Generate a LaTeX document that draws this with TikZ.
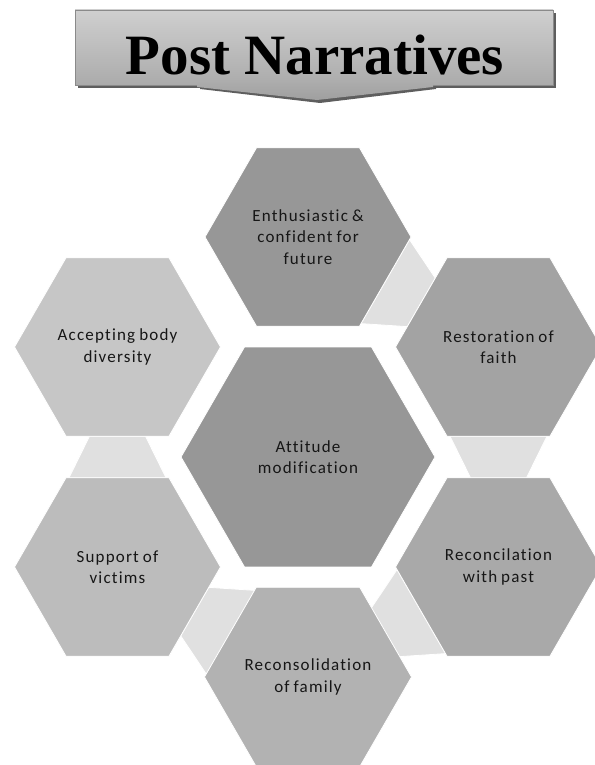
\documentclass[tikz,border=0pt]{standalone}
\usepackage{fontspec}
\setmainfont{Carlito}
\newfontfamily\hexfont{Carlito}[LetterSpace=7.0, Ligatures=NoCommon, WordSpace=0.8]
\newfontfamily\titlefont{Liberation Serif}
\usetikzlibrary{shapes.geometric,calc}

\definecolor{txt}{HTML}{161616}
\definecolor{linkgray}{HTML}{E0E0E0}
\definecolor{hexA}{HTML}{979797}
\definecolor{hexB}{HTML}{A3A3A3}
\definecolor{hexC}{HTML}{A9A9A9}
\definecolor{hexD}{HTML}{B2B2B2}
\definecolor{hexE}{HTML}{BCBCBC}
\definecolor{hexF}{HTML}{C6C6C6}
\definecolor{boxtop}{HTML}{CFCFCF}
\definecolor{boxbot}{HTML}{ABABAB}
\definecolor{boxedge}{HTML}{8A8A8A}
\definecolor{shadowgray}{HTML}{5E5E5E}

% trapezoid band between two neighbouring cells: #1 = first cell centre, #2 = direction
\newcommand\hexlink[2]{%
  \begin{scope}[shift={(#1)}, rotate=#2]
    \path[linkband] (89.2,-48.5) -- (130.8,-28) -- (130.8,28) -- (89.2,48.5) -- cycle;
  \end{scope}}

\begin{document}
\begin{tikzpicture}[x=1pt,y=1pt,
  hexcell/.style={regular polygon, regular polygon sides=6, draw=white,
    line width=0.8pt, inner sep=0pt, outer sep=0pt, text=txt, align=center,
    font=\hexfont\fontsize{17}{21.5}\selectfont},
  smallhex/.style={hexcell, minimum size=206pt},
  bighex/.style={hexcell, minimum size=254pt},
  linkband/.style={fill=linkgray, draw=white, line width=0.8pt},
  titlebox/.style={rectangle, minimum width=478pt, minimum height=75pt,
    inner sep=0pt, outer sep=0pt, top color=boxtop, bottom color=boxbot,
    draw=boxedge, line width=0.6pt}]

\fill[white] (0,0) rectangle (594,765);
\useasboundingbox (0,0) rectangle (594,765);

% cell centres
\coordinate (cMid) at (308,308);
\coordinate (cTop) at (308,528);
\coordinate (cUR)  at (498.5,418);
\coordinate (cLR)  at (498.5,198);
\coordinate (cBot) at (308,88);
\coordinate (cLL)  at (117.5,198);
\coordinate (cUL)  at (117.5,418);

% bands joining the outer ring
\hexlink{cTop}{-30}
\hexlink{cUR}{-90}
\hexlink{cLR}{-150}
\hexlink{cBot}{150}
\hexlink{cLL}{90}

% cells
\node[bighex, fill=hexA] (mid) at (cMid) {Attitude\\modification};
\node[smallhex, fill=hexA] (top) at (cTop) {Enthusiastic \&\\confident for\\future};
\node[smallhex, fill=hexB] (ur) at (cUR) {Restoration of\\faith};
\node[smallhex, fill=hexC] (lr) at (cLR) {Reconcilation\\with past};
\node[smallhex, fill=hexD] (bot) at (cBot) {Reconsolidation\\of family};
\node[smallhex, fill=hexE] (ll) at (cLL) {Support of\\victims};
\node[smallhex, fill=hexF] (ul) at (cUL) {Accepting body\\diversity};

% heading banner with its down arrow
\fill[shadowgray] (200,680) -- (436,680) -- (436,676) -- (320,662) -- (200,676) -- cycle;
\fill[shadowgray] (78,677) rectangle (556,752);
\node[titlebox] (banner) at (314,717.5) {};
\shade[top color=boxbot, bottom color=gray!75]
  ($(banner.south)+(-117,2)$) -- ($(banner.south)+(119,2)$) -- ($(banner.south)+(119,-2)$)
  -- ($(banner.south)+(3,-15)$) -- ($(banner.south)+(-117,-2)$) -- cycle;
\node[anchor=base, inner sep=0pt, text=black,
  font=\titlefont\bfseries\fontsize{57}{60}\selectfont] (heading) at (315,690) {Post Narratives};
\end{tikzpicture}
\end{document}
